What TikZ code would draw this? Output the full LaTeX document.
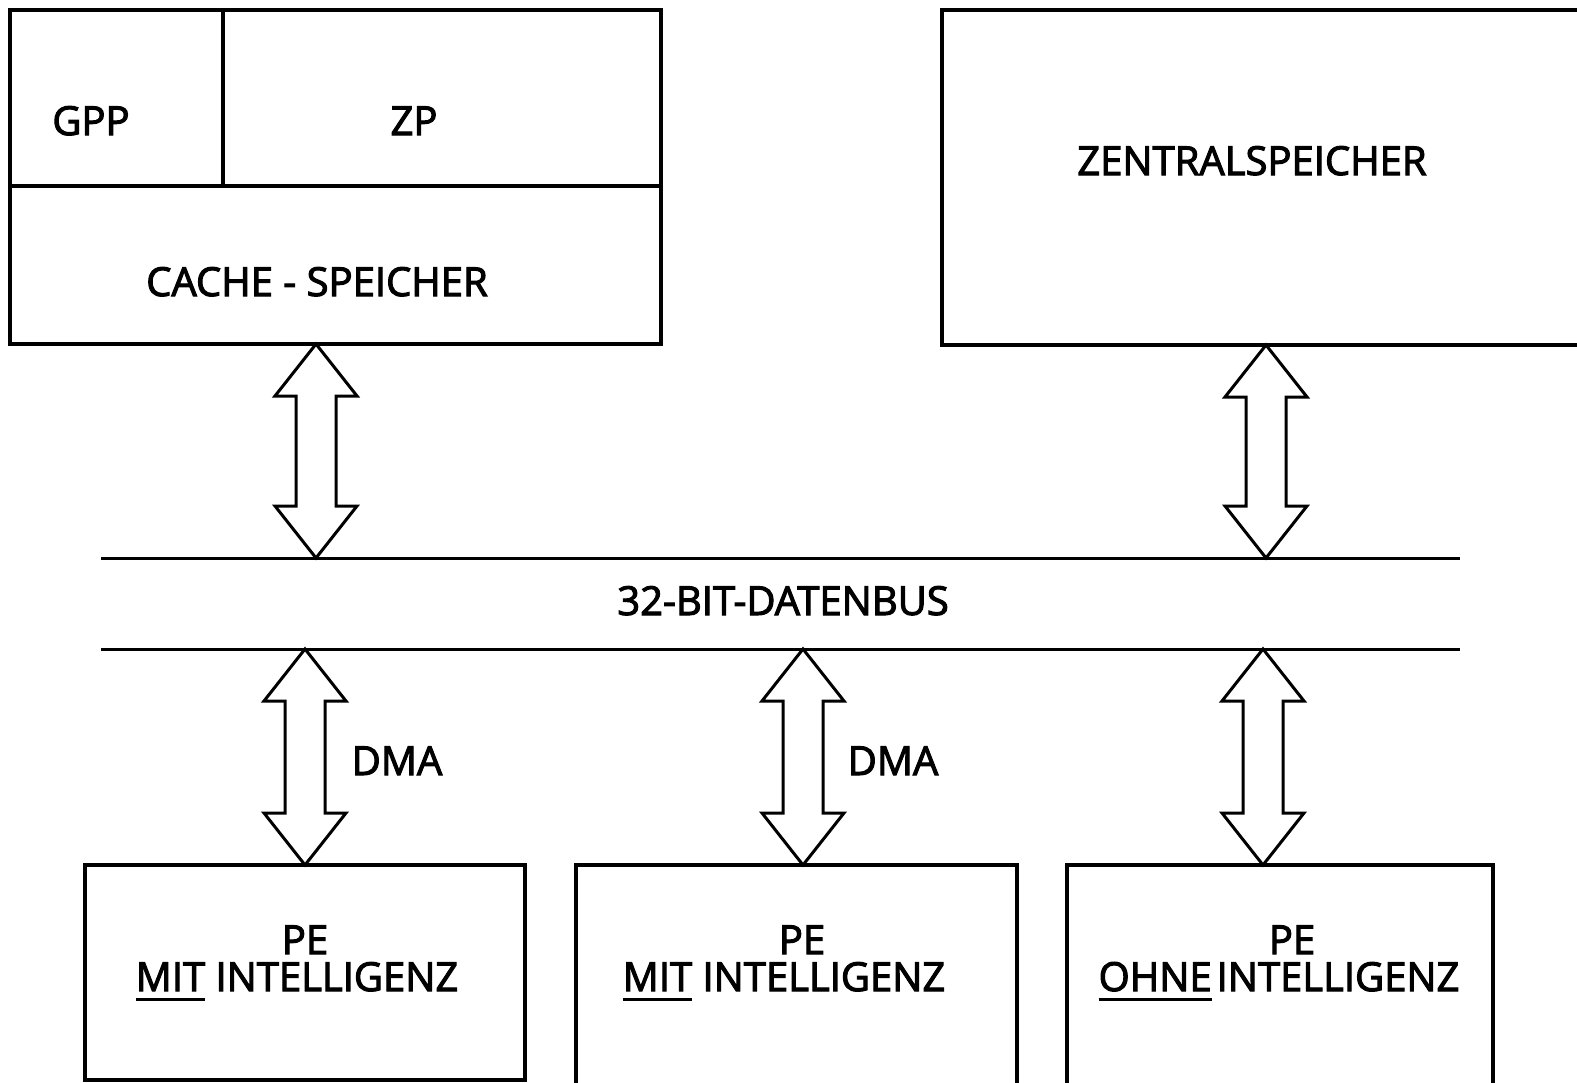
\documentclass[tikz,border=0pt]{standalone}
\usepackage{fontspec}
\setmainfont{Open Sans}
\newfontfamily\labelfont{Open Sans}[FakeBold=2.6]
\usetikzlibrary{calc}

% underlined word with the rule set a little below the baseline
\newcommand\ulword[1]{\vtop{\hbox{#1}\kern7pt\hrule height 2.6pt}}

% outlined double-headed block arrow between two named points (top, bottom)
\newcommand\busarrow[2]{%
  \draw[blockarrow] let \p1=(#1), \p2=(#2) in
    (\x1,\y1) -- (\x1+41pt,\y1-52pt) -- (\x1+20pt,\y1-52pt)
    -- (\x2+20pt,\y2+52pt) -- (\x2+41pt,\y2+52pt) -- (\x2,\y2)
    -- (\x2-41pt,\y2+52pt) -- (\x2-20pt,\y2+52pt)
    -- (\x1-20pt,\y1-52pt) -- (\x1-41pt,\y1-52pt) -- cycle;}

\tikzset{
  unitbox/.style={draw, line width=3.2pt, inner sep=0pt, outer sep=0pt, anchor=north west},
  lbl/.style={font=\labelfont\fontsize{40}{42}\selectfont, inner sep=0pt, anchor=base},
  busline/.style={line width=3pt},
  blockarrow/.style={line width=3pt, line join=miter, fill=white},
}

\begin{document}
\begin{tikzpicture}[x=1pt, y=-1pt]
  \path[use as bounding box, clip] (0,0) rectangle (1577,1082);
  \fill[white] (0,0) rectangle (1577,1082);

  % processor block: GPP, ZP and cache
  \node[unitbox, minimum width=213pt, minimum height=176pt] (gpp) at (10,10) {};
  \node[unitbox, minimum width=438pt, minimum height=176pt] (zp) at (223,10) {};
  \node[unitbox, minimum width=651pt, minimum height=158pt] (cache) at (10,186) {};
  \node[lbl] (gppt) at (91,135) {GPP};
  \node[lbl] (zpt) at (414,135) {ZP};
  \node[lbl] (cachet) at (317,296) {CACHE - SPEICHER};

  % main memory
  \node[unitbox, minimum width=660pt, minimum height=335pt] (zs) at (942,10) {};
  \node[lbl] (zst) at (1252,175) {ZENTRALSPEICHER};

  % data bus
  \coordinate (busTL) at (101,558);
  \coordinate (busTR) at (1460,558);
  \coordinate (busBL) at (101,649);
  \coordinate (busBR) at (1460,649);
  \draw[busline] (busTL) -- (busTR);
  \draw[busline] (busBL) -- (busBR);
  \node[lbl] (bus) at (783,615) {32-BIT-DATENBUS};

  % peripheral units
  \node[unitbox, minimum width=440pt, minimum height=215pt] (pe1) at (85,865) {};
  \node[unitbox, minimum width=441pt, minimum height=260pt] (pe2) at (576,865) {};
  \node[unitbox, minimum width=426pt, minimum height=260pt] (pe3) at (1067,865) {};
  \node[lbl] (pe1a) at (305,954) {PE};
  \node[lbl] (pe1b) at (297,991) {\ulword{MIT} INTELLIGENZ};
  \node[lbl] (pe2a) at (802,954) {PE};
  \node[lbl] (pe2b) at (784,991) {\ulword{MIT} INTELLIGENZ};
  \node[lbl] (pe3a) at (1292,954) {PE};
  \node[lbl] (pe3b) at (1279,991) {\ulword{OHNE}\hspace{5pt}INTELLIGENZ};
  \node[lbl] (dma1) at (397,775) {DMA};
  \node[lbl] (dma2) at (893,775) {DMA};

  % arrow axes
  \coordinate (ax1) at (316,0);
  \coordinate (ax2) at (1266,0);
  \coordinate (ax3) at (305,0);
  \coordinate (ax4) at (803,0);
  \coordinate (ax5) at (1263,0);

  % bus connections
  \busarrow{ax1 |- cache.south}{ax1 |- busTL}
  \busarrow{ax2 |- zs.south}{ax2 |- busTL}
  \busarrow{ax3 |- busBL}{ax3 |- pe1.north}
  \busarrow{ax4 |- busBL}{ax4 |- pe2.north}
  \busarrow{ax5 |- busBL}{ax5 |- pe3.north}
\end{tikzpicture}
\end{document}
